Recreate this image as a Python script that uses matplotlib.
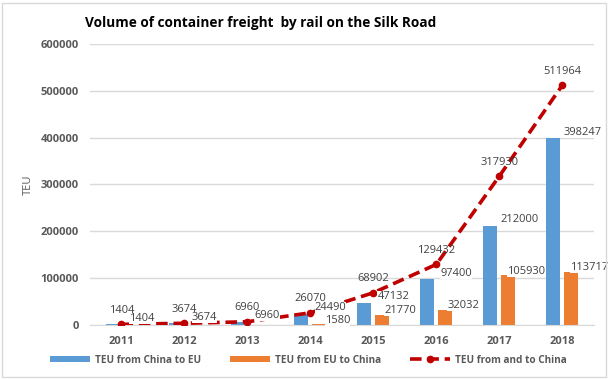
import matplotlib.pyplot as plt
import numpy as np

# Data.
years = ['2011', '2012', '2013', '2014', '2015', '2016', '2017', '2018']
china_to_eu = [1404, 3674, 6960, 24490, 47132, 97400, 212000, 398247]
eu_to_china = [0, 0, 0, 1580, 21770, 32032, 105930, 113717]
total = [1404, 3674, 6960, 26070, 68902, 129432, 317930, 511964]

blue = '#5B9BD5'
orange = '#ED7D31'
red = '#C00000'
grey = '#595959'

plt.rcParams['font.family'] = ['Open Sans', 'DejaVu Sans']

fig = plt.figure(figsize=(6.1, 3.79), dpi=100)
ax = fig.add_axes([0.1475, 0.1425, 0.826, 0.7414])

x = np.arange(len(years))
w = 0.22
off = 0.143

b1 = ax.bar(x - off, china_to_eu, w, color=blue, zorder=2, label='TEU from China to EU')
b2 = ax.bar(x + off, eu_to_china, w, color=orange, zorder=2, label='TEU from EU to China')
ln, = ax.plot(x, total, ls=(0, (3.2, 1.6)), lw=2.6, color=red, marker='o', ms=4.5,
              zorder=3, label='TEU from and to China')

# Data labels.
lab = dict(fontsize=8, color='#404040', ha='center', va='center',
           textcoords='offset pixels', zorder=5)
box = dict(boxstyle='square,pad=0.0', fc='white', ec='none')
for i in range(len(years)):
    ax.annotate('%d' % total[i], (x[i], total[i]), xytext=(0, 14), **lab)
    ax.annotate('%d' % china_to_eu[i], (x[i] - off, china_to_eu[i]), xytext=(29, 6),
                bbox=box, **lab)
    if eu_to_china[i] > 0:
        ax.annotate('%d' % eu_to_china[i], (x[i] + off, eu_to_china[i]), xytext=(18, 4),
                    bbox=box, **lab)

# Axes.
ax.set_xlim(-0.5, len(years) - 0.5)
ax.set_ylim(0, 600000)
ax.set_yticks(np.arange(0, 600001, 100000))
ax.set_xticks(x)
ax.set_xticklabels(years)
ax.grid(axis='y', color='#D9D9D9', lw=1, zorder=0)
for s in ['top', 'right', 'left']:
    ax.spines[s].set_visible(False)
ax.spines['bottom'].set_color('#D9D9D9')
ax.tick_params(length=0, labelsize=8, labelcolor=grey, pad=8)
for t in ax.get_xticklabels() + ax.get_yticklabels():
    t.set_fontweight('bold')
ax.set_ylabel('TEU', fontsize=8, color=grey, labelpad=5)

# Title.
fig.text(0.428, 0.94, 'Volume of container freight  by rail on the Silk Road',
         fontsize=9.8, fontweight='bold', ha='center', va='center')

# Legend.
fig.legend(handles=[b1, b2, ln], loc='center', bbox_to_anchor=(0.505, 0.05), ncol=3,
           frameon=False, handlelength=4.0, handleheight=0.45,
           columnspacing=2.9, handletextpad=0.5, labelcolor=grey,
           prop={'weight': 'bold', 'size': 7.2})

# Outer border.
fig.add_artist(plt.Rectangle((0.004, 0.006), 0.99, 0.985, transform=fig.transFigure,
                             fill=False, ec='#D9D9D9', lw=1))

fig.savefig('out.png', dpi=100)
